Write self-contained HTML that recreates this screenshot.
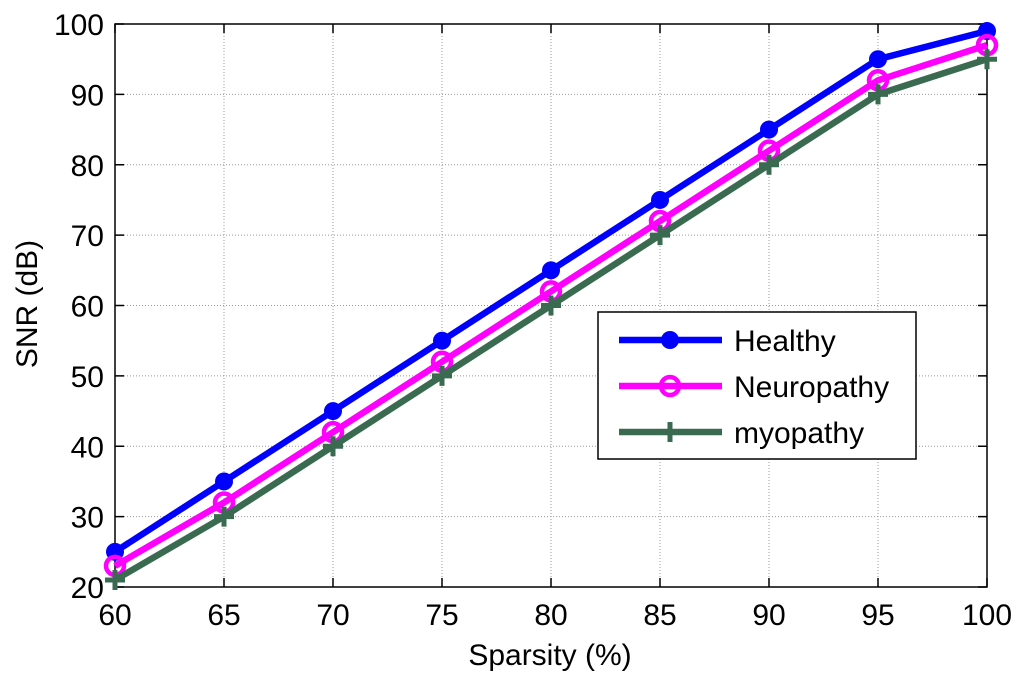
<!DOCTYPE html>
<html><head><meta charset="utf-8"><style>
body{margin:0;background:#fff;width:1024px;height:685px;overflow:hidden}
text{font-family:"Liberation Sans",Arial,sans-serif}
</style></head><body>
<svg id="chart" width="1024" height="685" xmlns="http://www.w3.org/2000/svg"></svg>
<script>
const categories=[60,65,70,75,80,85,90,95,100];
const healthy=[25,35,45,55,65,75,85,95,99];
const neuropathy=[23,32,42,52,62,72,82,92,97];
const myopathy=[21,30,40,50,60,70,80,90,95];
const yTicks=[20,30,40,50,60,70,80,90,100];
const X0=115,X1=987,Y0=587,Y1=24;
const xs=v=>X0+(v-60)/40*(X1-X0);
const ys=v=>Y0-(v-20)/80*(Y0-Y1);
const svg=document.getElementById('chart');
const NS='http://www.w3.org/2000/svg';
function mk(t,a,p){const e=document.createElementNS(NS,t);for(const k in a)e.setAttribute(k,a[k]);(p||svg).appendChild(e);return e;}
categories.forEach(c=>{
  const g=mk('line',{x1:xs(c),x2:xs(c),y1:Y1,y2:Y0,stroke:'#999','stroke-width':1,'stroke-dasharray':'1,2'});
  
  
  const t=mk('line',{x1:xs(c),x2:xs(c),y1:Y0,y2:Y0-9,stroke:'#000','stroke-width':1.5});
  
  
  const t2=mk('line',{x1:xs(c),x2:xs(c),y1:Y1,y2:Y1+9,stroke:'#000','stroke-width':1.5});
  
  
  const l=mk('text',{x:xs(c),y:625,'text-anchor':'middle','font-size':30});
  l.textContent=c;
  
  
});
yTicks.forEach(v=>{
  const g=mk('line',{x1:X0,x2:X1,y1:ys(v),y2:ys(v),stroke:'#999','stroke-width':1,'stroke-dasharray':'1,2'});
  
  
  const t=mk('line',{x1:X0,x2:X0+9,y1:ys(v),y2:ys(v),stroke:'#000','stroke-width':1.5});
  
  
  const t2=mk('line',{x1:X1,x2:X1-9,y1:ys(v),y2:ys(v),stroke:'#000','stroke-width':1.5});
  
  
  const l=mk('text',{x:104,y:ys(v)+11,'text-anchor':'end','font-size':30});
  l.textContent=v;
  
  
});
const frame=mk('rect',{x:X0,y:Y1,width:X1-X0,height:Y0-Y1,fill:'none',stroke:'#000','stroke-width':1.5});


function marker(type,x,y,color,p){
  let m;
  if(type==='dot'){m=mk('circle',{cx:x,cy:y,r:9,fill:color},p);}
  else if(type==='ring'){m=mk('circle',{cx:x,cy:y,r:9,fill:'none',stroke:color,'stroke-width':4.5},p);}
  else{m=mk('path',{d:`M${x-10},${y}H${x+10}M${x},${y-10}V${y+10}`,stroke:color,'stroke-width':5},p);}
  return m;
}
const series=[
 {name:'healthy',data:healthy,color:'#0000ff',m:'dot',label:'Healthy'},
 {name:'neuropathy',data:neuropathy,color:'#ff00ff',m:'ring',label:'Neuropathy'},
 {name:'myopathy',data:myopathy,color:'#3a6b50',m:'plus',label:'myopathy'}];
series.forEach(s=>{
  const g=mk('g',{});
  
  
  mk('polyline',{points:s.data.map((v,i)=>xs(categories[i])+','+ys(v)).join(' '),fill:'none',stroke:s.color,'stroke-width':6.5,'stroke-linejoin':'round'},g);
  s.data.forEach((v,i)=>{
    const m=marker(s.m,xs(categories[i]),ys(v),s.color,g);
    
    
  });
});
const lg=mk('g',{});


mk('rect',{x:598,y:312,width:318,height:147,fill:'#fff',stroke:'#000','stroke-width':1.5},lg);
series.forEach((s,i)=>{
  const y=340+i*46;
  const e=mk('g',{},lg);
  
  
  mk('line',{x1:619,x2:722,y1:y,y2:y,stroke:s.color,'stroke-width':6.5},e);
  marker(s.m,670,y,s.color,e);
  const t=mk('text',{x:734,y:y+11,'font-size':30},e);
  t.textContent=s.label;
});
const xt=mk('text',{x:550,y:665,'text-anchor':'middle','font-size':30});
xt.textContent='Sparsity (%)';


const yt=mk('text',{x:37,y:304,'text-anchor':'middle','font-size':30,transform:'rotate(-90 37 304)'});
yt.textContent='SNR (dB)';


</script>
</body></html>
